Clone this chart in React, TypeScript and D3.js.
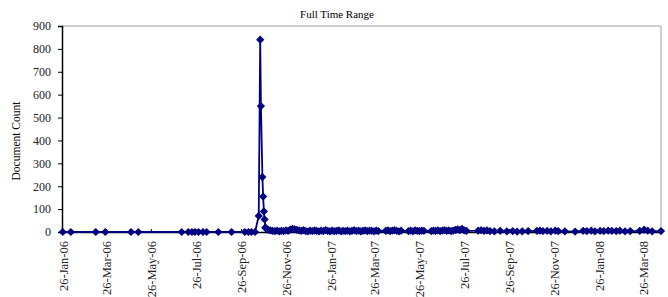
import React, { useEffect, useRef } from 'react';
import * as d3 from 'd3';

// sparse points before the spike
const earlyDates = [
    '2006-01-26', '2006-02-06', '2006-03-12', '2006-03-25', '2006-04-29', '2006-05-09',
    '2006-07-07', '2006-07-16', '2006-07-21', '2006-07-25', '2006-07-30', '2006-08-05',
    '2006-08-10', '2006-08-26', '2006-09-13', '2006-10-01', '2006-10-06', '2006-10-10',
    '2006-10-15',
];
const earlyCounts = [0, 0, 0, 0, 0, 0, 0, 0, 0, 0, 0, 0, 0, 0, 0, 0, 0, 0, 0];

// the spike in late October 2006
const spikeDates = [
    '2006-10-20', '2006-10-22', '2006-10-23', '2006-10-25', '2006-10-26', '2006-10-27', '2006-10-28',
];
const spikeCounts = [70, 840, 550, 240, 155, 90, 55];

// dense tail, Oct 2006 - Jul 2007
const tailDates = [
    '2006-10-29', '2006-10-30', '2006-10-31', '2006-11-02', '2006-11-05', '2006-11-08', '2006-11-11',
    '2006-11-14', '2006-11-17', '2006-11-20', '2006-11-23', '2006-11-26', '2006-11-29', '2006-12-02',
    '2006-12-05', '2006-12-08', '2006-12-11', '2006-12-14', '2006-12-17', '2006-12-20', '2006-12-23',
    '2006-12-26', '2006-12-29', '2007-01-01', '2007-01-04', '2007-01-07', '2007-01-10', '2007-01-13',
    '2007-01-16', '2007-01-19', '2007-01-22', '2007-01-25', '2007-01-28', '2007-01-31', '2007-02-03',
    '2007-02-06', '2007-02-09', '2007-02-12', '2007-02-15', '2007-02-18', '2007-02-21', '2007-02-24',
    '2007-02-27', '2007-03-02', '2007-03-05', '2007-03-08', '2007-03-11', '2007-03-14', '2007-03-17',
    '2007-03-20', '2007-03-23', '2007-03-26', '2007-03-29', '2007-04-01', '2007-04-11', '2007-04-14',
    '2007-04-17', '2007-04-20', '2007-04-23', '2007-04-26', '2007-04-29', '2007-05-02', '2007-05-12',
    '2007-05-15', '2007-05-18', '2007-05-21', '2007-05-24', '2007-05-27', '2007-05-30', '2007-06-02',
    '2007-06-12', '2007-06-15', '2007-06-18', '2007-06-21', '2007-06-24', '2007-06-27', '2007-06-30',
    '2007-07-03', '2007-07-06', '2007-07-09', '2007-07-12', '2007-07-15', '2007-07-18', '2007-07-21',
    '2007-07-24', '2007-07-27', '2007-07-30',
];
const tailCounts = [
    20, 16, 12, 9, 7, 5, 4,
    6, 3, 5, 4, 7, 5, 10,
    14, 12, 9, 7, 5, 8, 4,
    3, 6, 4, 7, 5, 3, 6,
    4, 8, 5, 3, 6, 4, 5,
    7, 3, 5, 4, 6, 3, 5,
    8, 4, 6, 3, 5, 7, 4,
    6, 5, 3, 6, 4, 5, 7,
    4, 6, 8, 5, 3, 6, 4,
    6, 3, 7, 5, 4, 6, 5,
    4, 6, 5, 7, 4, 6, 8,
    5, 7, 4, 6, 9, 12, 8,
    14, 7, 5,
];

// sparser points, Aug 2007 - Apr 2008
const lateDates = [
    '2007-08-15', '2007-08-19', '2007-08-23', '2007-08-27', '2007-08-31', '2007-09-06', '2007-09-14',
    '2007-09-23', '2007-10-01', '2007-10-07', '2007-10-14', '2007-10-22', '2007-11-03', '2007-11-07',
    '2007-11-11', '2007-11-17', '2007-11-22', '2007-11-28', '2007-12-02', '2007-12-11', '2007-12-25',
    '2008-01-05', '2008-01-10', '2008-01-16', '2008-01-21', '2008-01-28', '2008-02-02', '2008-02-08',
    '2008-02-13', '2008-02-19', '2008-02-24', '2008-03-02', '2008-03-09', '2008-03-22', '2008-03-28',
    '2008-04-02', '2008-04-08', '2008-04-20',
];
const lateCounts = [
    6, 8, 5, 7, 4, 3, 5,
    3, 4, 2, 3, 4, 5, 6,
    4, 5, 3, 6, 4, 3, 2,
    5, 4, 6, 3, 5, 4, 6,
    5, 4, 6, 3, 4, 5, 10,
    6, 3, 4,
];

const tickDates = [
    '2006-01-26', '2006-03-26', '2006-05-26', '2006-07-26', '2006-09-26', '2006-11-26',
    '2007-01-26', '2007-03-26', '2007-05-26', '2007-07-26', '2007-09-26', '2007-11-26',
    '2008-01-26', '2008-03-26',
];
const yTicks = [0, 100, 200, 300, 400, 500, 600, 700, 800, 900];

const App = () => {
    const svgRef = useRef(null);

    useEffect(() => {
        if (!svgRef.current) return;

        const width = 668;
        const height = 297;
        const left = 62, right = 661, top = 26, bottom = 232;
        const navy = '#000080';
        const font = '"Liberation Serif", "Times New Roman", serif';

        const parse = d3.utcParse('%Y-%m-%d');
        const dates = [...earlyDates, ...spikeDates, ...tailDates, ...lateDates];
        const counts = [...earlyCounts, ...spikeCounts, ...tailCounts, ...lateCounts];
        const data = dates.map((d, i) => ({ date: parse(d), value: counts[i] }));

        const svg = d3.select(svgRef.current);
        svg.selectAll('*').remove();
        svg.attr('width', width).attr('height', height);

        const x = d3.scaleUtc()
            .domain([parse('2006-01-25'), parse('2008-04-20')])
            .range([left, right]);

        const y = d3.scaleLinear()
            .domain([0, 900])
            .range([bottom, top]);

        // plot frame: grey top/right
        svg.append('path')
            .attr('d', `M${left},${top}H${right}V${bottom}`)
            .attr('fill', 'none')
            .attr('stroke', '#a0a0a0')
            .attr('stroke-width', 1);

        // title
        svg.append('text')
            .attr('x', 337)
            .attr('y', 18)
            .attr('text-anchor', 'middle')
            .style('font-family', font)
            .style('font-size', '11px')
            .text('Full Time  Range');

        // y axis
        const yAxis = svg.append('g')
            .attr('transform', `translate(${left},0)`)
            .call(d3.axisLeft(y).tickValues(yTicks).tickSize(4).tickPadding(7));
        yAxis.select('.domain').attr('stroke', '#000').attr('stroke-width', 1.5);
        yAxis.selectAll('.tick line').attr('stroke', '#000');
        yAxis.selectAll('text')
            .style('font-family', font)
            .style('font-size', '12px')
            .attr('fill', '#222');

        svg.append('text')
            .attr('transform', `translate(20,${(top + bottom) / 2 + 12}) rotate(-90)`)
            .attr('text-anchor', 'middle')
            .style('font-family', font)
            .style('font-size', '11.5px')
            .text('Document Count');

        // x axis
        const xAxis = svg.append('g')
            .attr('transform', `translate(0,${bottom})`)
            .call(d3.axisBottom(x).tickValues(tickDates.map(parse)).tickSize(-3).tickFormat(() => ''));
        xAxis.select('.domain').attr('stroke', '#000').attr('stroke-width', 1.5);
        xAxis.selectAll('.tick line').attr('stroke', '#000');

        svg.append('g')
            .selectAll('text')
            .data(tickDates)
            .enter()
            .append('text')
            .attr('transform', d => `translate(${x(parse(d)) + 1},${bottom + 9}) rotate(-90)`)
            .attr('text-anchor', 'end')
            .attr('dy', '0.35em')
            .style('font-family', font)
            .style('font-size', '12.5px')
            .attr('fill', '#222')
            .text(d => d3.utcFormat('%d-%b-%y')(parse(d)));

        // series
        const line = d3.line()
            .x(d => x(d.date))
            .y(d => y(d.value));

        svg.append('path')
            .datum(data)
            .attr('d', line)
            .attr('fill', 'none')
            .attr('stroke', navy)
            .attr('stroke-width', 1.8);

        const diamond = d3.symbol().type(d3.symbolSquare).size(34);
        svg.append('g')
            .selectAll('path')
            .data(data)
            .enter()
            .append('path')
            .attr('d', diamond)
            .attr('transform', d => `translate(${x(d.date)},${y(d.value)}) rotate(45)`)
            .attr('fill', navy);
    }, []);

    return (
        <svg ref={svgRef} style={{ position: 'absolute', left: 0, top: 0, background: '#fff' }}></svg>
    );
};

export default App;
